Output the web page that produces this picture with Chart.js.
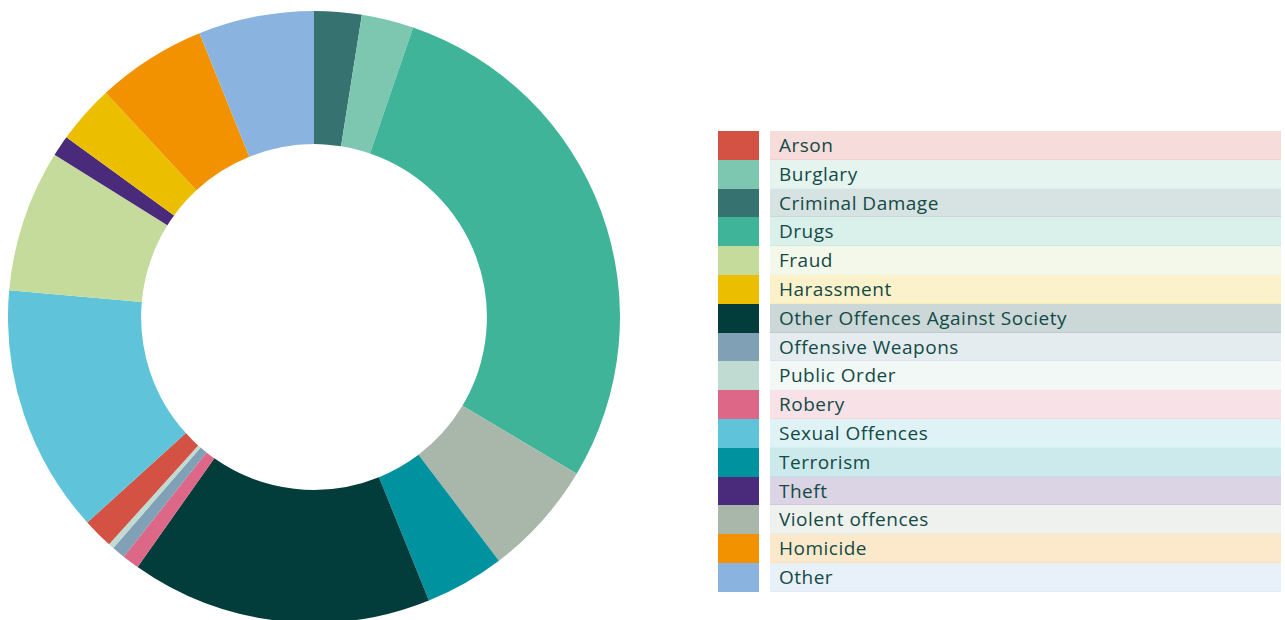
<!DOCTYPE html>
<html lang="en">
<head>
    <meta charset="UTF-8">
    <title>Offences by category</title>
    <script src="https://cdn.jsdelivr.net/npm/chart.js"></script>
    <style>
        html, body { margin: 0; padding: 0; background: #fff; overflow: hidden; }
        #chartBox { position: absolute; left: 8px; top: 11px; width: 612px; height: 612px; }
        #legend { position: absolute; left: 718px; top: 131px; width: 563px; font-family: "Open Sans", sans-serif; font-size: 19px; letter-spacing: 0.5px; color: #134a45; }
        .row { display: flex; height: 28.8px; }
        .swatch { width: 41px; flex: none; }
        .label { margin-left: 11px; flex: 1; padding-left: 9px; line-height: 28px; box-sizing: border-box; white-space: nowrap; }
    </style>
</head>
<body>
    <div id="chartBox"><canvas id="donut" width="612" height="612"></canvas></div>
    <div id="legend"></div>

    <script>
        // categories, in the order the ring is drawn (clockwise from 12 o'clock)
        const categories = ['Criminal Damage', 'Burglary', 'Drugs', 'Violent offences', 'Terrorism',
            'Other Offences Against Society', 'Robery', 'Offensive Weapons', 'Public Order', 'Arson',
            'Sexual Offences', 'Fraud', 'Theft', 'Harassment', 'Homicide', 'Other'];
        // share of cases, %
        const shares = [2.5, 2.75, 28.3, 6.1, 4.2, 15.9, 0.9, 0.7, 0.3, 1.6, 13.1, 7.5, 1.1, 3.1, 5.8, 6.1];

        // legend order as shown on the right
        const legendOrder = ['Arson', 'Burglary', 'Criminal Damage', 'Drugs', 'Fraud', 'Harassment',
            'Other Offences Against Society', 'Offensive Weapons', 'Public Order', 'Robery',
            'Sexual Offences', 'Terrorism', 'Theft', 'Violent offences', 'Homicide', 'Other'];

        const colours = {
            'Arson': '#d35244',
            'Burglary': '#7dc7b0',
            'Criminal Damage': '#367370',
            'Drugs': '#40b499',
            'Fraud': '#c5db9c',
            'Harassment': '#ebbe00',
            'Other Offences Against Society': '#023c3b',
            'Offensive Weapons': '#7fa0b5',
            'Public Order': '#c0dbd1',
            'Robery': '#dd6787',
            'Sexual Offences': '#5fc3d9',
            'Terrorism': '#00929f',
            'Theft': '#4a2a7b',
            'Violent offences': '#a8b7a9',
            'Homicide': '#f29200',
            'Other': '#8ab4df'
        };

        function tint(hex, a) {
            const n = parseInt(hex.slice(1), 16);
            return `rgba(${n >> 16}, ${(n >> 8) & 255}, ${n & 255}, ${a})`;
        }

        new Chart(document.getElementById('donut'), {
            type: 'doughnut',
            data: {
                labels: categories,
                datasets: [{
                    data: shares,
                    backgroundColor: categories.map(c => colours[c]),
                    borderWidth: 0
                }]
            },
            options: {
                responsive: false,
                animation: false,
                cutout: '56.5%',
                layout: { padding: 0 },
                plugins: {
                    legend: { display: false },
                    tooltip: { enabled: false }
                }
            }
        });

        // html legend with tinted rows
        const legend = document.getElementById('legend');
        legendOrder.forEach(name => {
            const c = colours[name];
            const row = document.createElement('div');
            row.className = 'row';
            row.innerHTML = `<div class="swatch" style="background:${c}"></div>` +
                `<div class="label" style="background:${tint(c, 0.2)}; border-bottom:1px solid ${tint(c, 0.08)}">${name}</div>`;
            legend.appendChild(row);
        });
    </script>
</body>
</html>
